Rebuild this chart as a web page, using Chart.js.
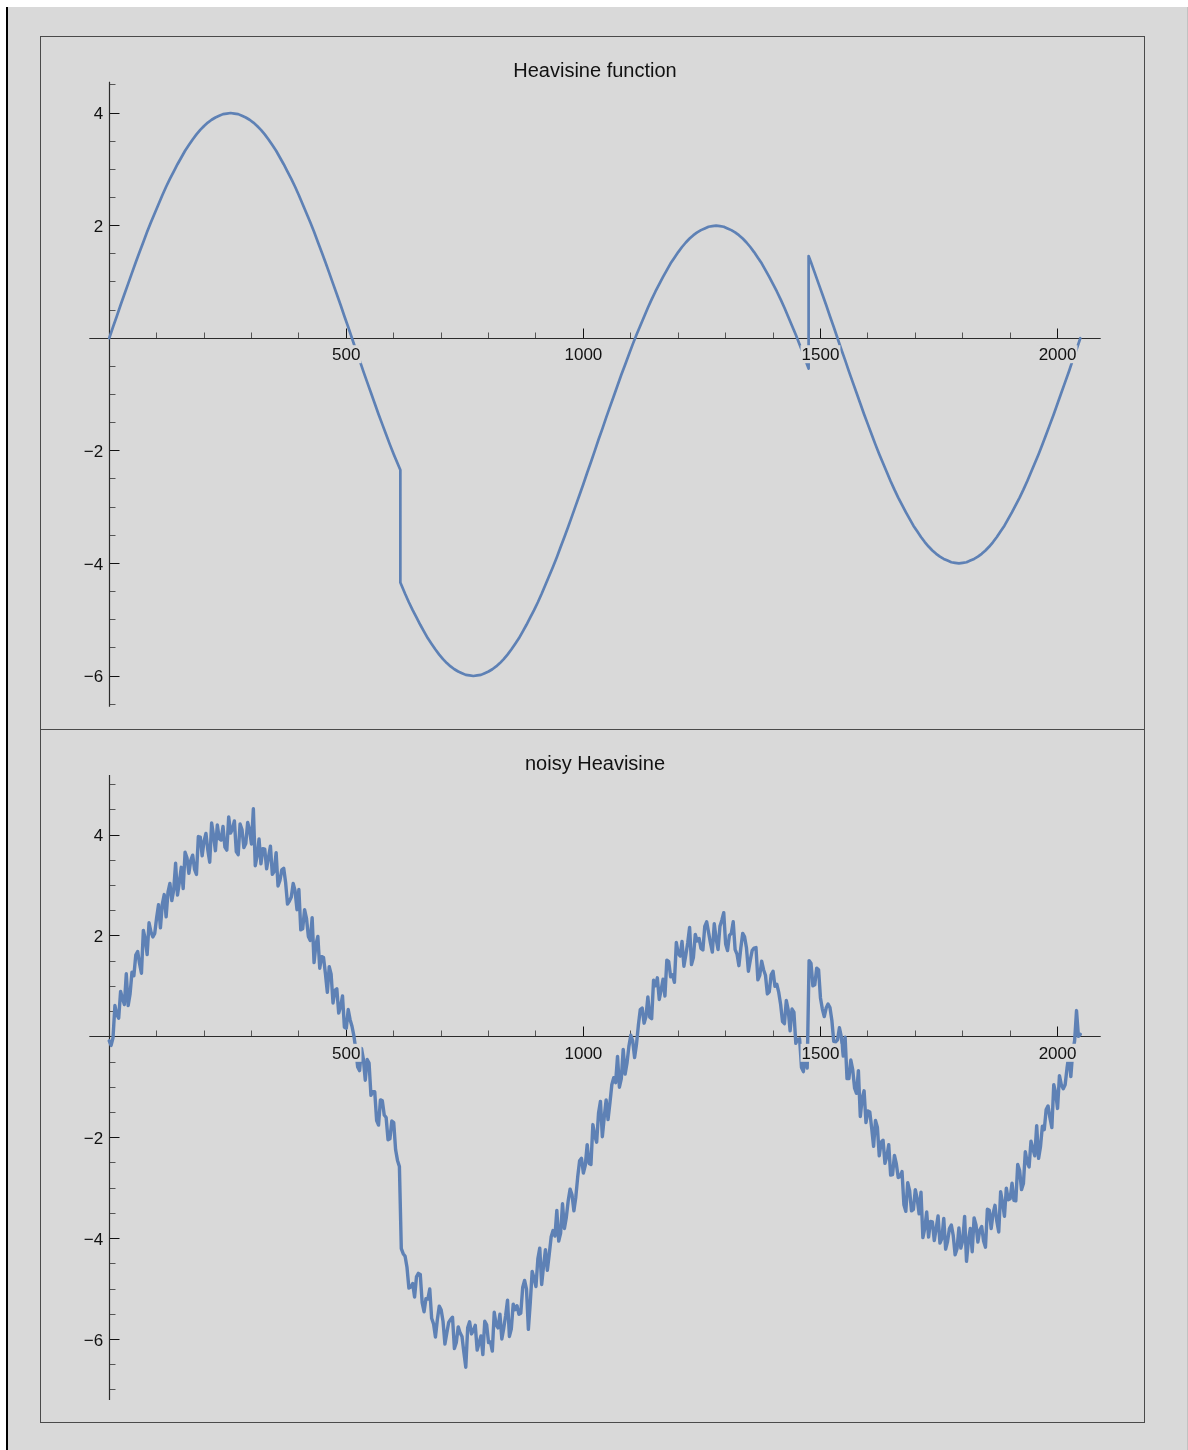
<!DOCTYPE html>
<html>
<head>
<meta charset="utf-8">
<script src="https://cdn.jsdelivr.net/npm/chart.js@4.4.1/dist/chart.umd.min.js"></script>
<style>
  html, body { margin: 0; padding: 0; background: #fff; }
  body { width: 1188px; height: 1450px; position: relative; overflow: hidden; }
  #sheet {
    position: absolute; left: 6px; top: 7px; width: 1182px; height: 1443px;
    box-sizing: border-box; background: #d9d9d9;
    border-left: 2px solid #000; border-right: 1px solid #c2c2c2;
  }
  .frame {
    position: absolute; left: 40px; width: 1105px; height: 694px;
    box-sizing: border-box; border: 1px solid #4a4a4a;
  }
  canvas { position: absolute; left: 0; }
</style>
</head>
<body>
<div id="sheet"></div>
<div class="frame" style="top:36px"></div>
<div class="frame" style="top:729px"></div>
<canvas id="cleanChart" width="1188" height="730" style="top:0"></canvas>
<canvas id="noisyChart" width="1188" height="720" style="top:730px"></canvas>
<script>
// Heavisine, read every 8 samples
const cleanStep = 8;
const cleanY = [
  0, 0.20, 0.39, 0.59, 0.78, 0.97, 1.16, 1.35, 1.53, 1.71, 1.89, 2.06, 2.22, 2.38, 2.54, 2.69,
  2.83, 2.96, 3.09, 3.21, 3.33, 3.43, 3.53, 3.62, 3.70, 3.77, 3.83, 3.88, 3.92, 3.95, 3.98, 3.99,
  4.00, 3.99, 3.98, 3.95, 3.92, 3.88, 3.83, 3.77, 3.70, 3.62, 3.53, 3.43, 3.33, 3.21, 3.09, 2.96,
  2.83, 2.69, 2.54, 2.38, 2.22, 2.06, 1.89, 1.71, 1.53, 1.35, 1.16, 0.97, 0.78, 0.59, 0.39, 0.20,
  0, -0.20, -0.39, -0.59, -0.78, -0.97, -1.16, -1.35, -1.53, -1.71, -1.89, -2.06, -2.22, -4.38, -4.54, -4.69,
  -4.83, -4.96, -5.09, -5.21, -5.33, -5.43, -5.53, -5.62, -5.70, -5.77, -5.83, -5.88, -5.92, -5.95, -5.98, -5.99,
  -6.00, -5.99, -5.98, -5.95, -5.92, -5.88, -5.83, -5.77, -5.70, -5.62, -5.53, -5.43, -5.33, -5.21, -5.09, -4.96,
  -4.83, -4.69, -4.54, -4.38, -4.22, -4.06, -3.89, -3.71, -3.53, -3.35, -3.16, -2.97, -2.78, -2.59, -2.39, -2.20,
  -2.00, -1.80, -1.61, -1.41, -1.22, -1.03, -0.84, -0.65, -0.47, -0.29, -0.11, 0.06, 0.22, 0.38, 0.54, 0.69,
  0.83, 0.96, 1.09, 1.21, 1.33, 1.43, 1.53, 1.62, 1.70, 1.77, 1.83, 1.88, 1.92, 1.95, 1.98, 1.99,
  2.00, 1.99, 1.98, 1.95, 1.92, 1.88, 1.83, 1.77, 1.70, 1.62, 1.53, 1.43, 1.33, 1.21, 1.09, 0.96,
  0.83, 0.69, 0.54, 0.38, 0.22, 0.06, -0.11, -0.29, -0.47, 1.35, 1.16, 0.97, 0.78, 0.59, 0.39, 0.20,
  0, -0.20, -0.39, -0.59, -0.78, -0.97, -1.16, -1.35, -1.53, -1.71, -1.89, -2.06, -2.22, -2.38, -2.54, -2.69,
  -2.83, -2.96, -3.09, -3.21, -3.33, -3.43, -3.53, -3.62, -3.70, -3.77, -3.83, -3.88, -3.92, -3.95, -3.98, -3.99,
  -4.00, -3.99, -3.98, -3.95, -3.92, -3.88, -3.83, -3.77, -3.70, -3.62, -3.53, -3.43, -3.33, -3.21, -3.09, -2.96,
  -2.83, -2.69, -2.54, -2.38, -2.22, -2.06, -1.89, -1.71, -1.53, -1.35, -1.16, -0.97, -0.78, -0.59, -0.39, -0.20,
  0
];
// the two jumps
const jumpX = [614, 1475];
const jumpFrom = [-2.34, -0.54];
const jumpTo = [-4.34, 1.46];

// noisy Heavisine, read every 4 samples
const noisyStep = 4;
const noisyY = [
  -0.08, -0.17, -0.02, 0.62, 0.44, 0.37, 0.90, 0.76, 0.64, 1.25, 0.62, 0.85, 1.28, 1.21, 1.62, 1.69,
  1.45, 1.26, 2.11, 1.94, 1.63, 2.26, 2.08, 1.98, 2.05, 2.36, 2.62, 2.16, 2.63, 2.82, 2.38, 2.87,
  3.04, 2.70, 2.91, 3.44, 2.81, 3.07, 3.36, 2.94, 3.66, 3.55, 3.24, 3.50, 3.60, 3.32, 3.22, 3.97,
  3.96, 3.59, 3.88, 4.03, 3.70, 3.46, 4.24, 3.99, 3.69, 4.20, 3.93, 3.90, 4.17, 3.76, 3.70, 4.36,
  4.04, 4.12, 4.28, 3.67, 3.61, 4.22, 4.11, 3.75, 3.83, 4.25, 4.10, 3.82, 4.52, 3.39, 3.59, 3.92,
  3.43, 3.73, 3.72, 3.33, 3.56, 3.78, 3.22, 3.28, 3.65, 2.99, 3.10, 3.31, 3.34, 3.06, 2.63, 2.69,
  2.77, 3.04, 2.89, 2.52, 2.92, 2.12, 2.14, 2.52, 2.35, 1.99, 1.91, 2.36, 1.47, 1.83, 1.99, 1.36,
  1.59, 1.57, 1.25, 0.88, 1.39, 1.24, 0.67, 0.92, 0.95, 0.47, 0.60, 0.81, 0.19, 0.17, 0.54, 0.34,
  0.21, 0.02, -0.25, -0.60, -0.67, -0.23, -0.44, -0.86, -0.45, -0.52, -1.16, -1.09, -1.09, -1.66, -1.75, -1.25,
  -1.27, -1.55, -1.60, -2.04, -2.02, -1.67, -1.70, -2.24, -2.45, -2.57, -4.20, -4.30, -4.35, -4.57, -4.98, -4.96,
  -4.89, -5.16, -4.76, -4.69, -4.71, -5.27, -5.45, -5.19, -5.20, -5.00, -5.58, -5.69, -5.95, -5.61, -5.34, -5.41,
  -5.64, -6.09, -5.87, -5.66, -5.60, -5.56, -6.18, -6.06, -5.75, -5.87, -5.94, -6.26, -6.55, -5.77, -5.65, -5.89,
  -5.82, -5.72, -6.21, -6.07, -5.93, -6.30, -5.64, -5.71, -6.06, -6.05, -6.23, -5.46, -5.71, -5.77, -5.50, -5.99,
  -5.78, -5.53, -5.22, -5.94, -5.79, -5.30, -5.41, -5.33, -5.50, -5.48, -4.97, -4.83, -5.00, -5.80, -5.27, -4.65,
  -4.79, -4.95, -4.40, -4.19, -4.91, -4.54, -4.22, -4.63, -4.31, -3.97, -3.84, -3.95, -3.44, -4.05, -3.89, -3.31,
  -3.80, -3.58, -3.25, -3.02, -3.13, -3.45, -3.18, -2.78, -2.46, -2.41, -2.70, -2.55, -2.14, -2.51, -2.53, -1.74,
  -1.96, -2.09, -1.51, -1.28, -1.98, -1.59, -1.25, -1.64, -1.31, -0.95, -0.81, -0.91, -0.39, -1.00, -0.83, -0.25,
  -0.74, -0.52, -0.19, 0.03, -0.08, -0.41, -0.15, 0.23, 0.54, 0.57, 0.27, 0.40, 0.79, 0.39, 0.36, 1.12,
  1.01, 1.17, 0.74, 0.93, 1.14, 0.81, 1.52, 1.49, 1.19, 1.23, 1.08, 1.87, 1.65, 1.60, 1.89, 1.40,
  1.62, 1.86, 2.17, 1.43, 1.57, 2.03, 1.90, 1.95, 1.75, 1.72, 2.19, 2.28, 2.07, 1.86, 1.68, 2.24,
  1.94, 1.73, 2.19, 2.31, 2.46, 1.84, 1.71, 2.01, 2.05, 2.28, 1.73, 1.64, 1.41, 1.76, 2.05, 1.98,
  1.76, 1.30, 1.52, 1.71, 1.76, 1.77, 1.13, 1.22, 1.50, 1.33, 1.22, 0.85, 0.89, 1.23, 1.30, 1.00,
  1.04, 0.88, 0.64, 0.30, 0.26, 0.72, 0.53, 0.12, 0.55, 0.49, -0.13, -0.05, -0.04, -0.61, -0.69, -0.19,
  -0.62, 1.51, 1.46, 1.01, 1.03, 1.36, 1.33, 0.77, 0.55, 0.40, 0.57, 0.65, 0.58, 0.33, -0.09, -0.10,
  -0.06, 0.18, 0.00, -0.38, -0.01, -0.83, -0.83, -0.46, -0.65, -1.02, -1.12, -0.67, -1.58, -1.22, -1.07, -1.70,
  -1.47, -1.49, -1.81, -2.17, -1.66, -1.79, -2.36, -2.09, -2.05, -2.51, -2.37, -2.14, -2.74, -2.73, -2.35, -2.52,
  -2.79, -2.77, -2.67, -3.33, -3.46, -2.89, -3.05, -3.45, -3.42, -3.03, -3.21, -3.51, -3.08, -3.98, -3.80, -3.47,
  -3.97, -3.66, -3.67, -4.04, -3.80, -3.55, -4.09, -4.00, -3.60, -4.21, -4.06, -3.80, -3.73, -3.94, -4.32, -4.20,
  -3.79, -4.19, -4.04, -3.56, -4.45, -4.04, -3.80, -4.26, -3.59, -3.73, -4.07, -3.83, -3.76, -4.05, -4.17, -3.42,
  -3.44, -3.80, -3.51, -3.34, -3.66, -3.87, -3.07, -3.29, -3.56, -3.00, -3.23, -3.21, -2.90, -3.24, -3.25, -2.53,
  -2.65, -3.03, -2.91, -2.28, -2.49, -2.58, -2.07, -2.22, -2.36, -1.76, -2.41, -2.18, -1.77, -1.84, -1.44, -1.37,
  -1.61, -1.80, -0.95, -1.11, -1.42, -0.77, -0.95, -1.03, -0.95, -0.62, -0.35, -0.79, -0.30, -0.08, 0.52, 0.01,
  0.05
];

// ticks
const xMajorTicks = [500, 1000, 1500, 2000];
const xMinorTicks = [100, 200, 300, 400, 600, 700, 800, 900, 1100, 1200, 1300, 1400, 1600, 1700, 1800, 1900];
const yMajorTicks = [-6, -4, -2, 2, 4];
const cleanYMinor = [-6.5, -5.5, -5, -4.5, -3.5, -3, -2.5, -1.5, -1, -0.5, 0.5, 1, 1.5, 2.5, 3, 3.5, 4.5];
const noisyYMinor = [-7, -6.5, -5.5, -5, -4.5, -3.5, -3, -2.5, -1.5, -1, -0.5, 0.5, 1, 1.5, 2.5, 3, 3.5, 4.5, 5];

const LINE = '#5e81b5';
const BG = '#d9d9d9';
const FONT = '"Liberation Sans", Arial, Helvetica, sans-serif';

function buildClean() {
  const pts = cleanY.map((v, i) => ({ x: i * cleanStep, y: v }));
  jumpX.forEach((jx, i) => {
    pts.push({ x: jx, y: jumpFrom[i] });
    pts.push({ x: jx, y: jumpTo[i] });
  });
  return pts.sort((a, b) => a.x - b.x);
}

const crisp = v => Math.round(v - 0.5) + 0.5;
const fmt = v => (v < 0 ? '\u2212' + Math.abs(v) : String(v));

// Mathematica style axes crossing at the origin
const mmaAxes = {
  id: 'mmaAxes',
  beforeDatasetsDraw(chart, args, o) {
    const { ctx, chartArea: a } = chart;
    const sx = chart.scales.x, sy = chart.scales.y;
    const x0 = crisp(sx.getPixelForValue(0));
    const y0 = crisp(sy.getPixelForValue(0));
    ctx.save();
    ctx.lineWidth = 1;

    ctx.strokeStyle = '#555';
    ctx.beginPath();
    xMinorTicks.forEach(v => {
      const px = crisp(sx.getPixelForValue(v));
      ctx.moveTo(px, y0); ctx.lineTo(px, y0 - 6);
    });
    o.yMinor.forEach(v => {
      const py = crisp(sy.getPixelForValue(v));
      ctx.moveTo(x0, py); ctx.lineTo(x0 + 6, py);
    });
    ctx.stroke();

    ctx.strokeStyle = '#111';
    ctx.beginPath();
    xMajorTicks.forEach(v => {
      const px = crisp(sx.getPixelForValue(v));
      ctx.moveTo(px, y0); ctx.lineTo(px, y0 - 10);
    });
    yMajorTicks.forEach(v => {
      const py = crisp(sy.getPixelForValue(v));
      ctx.moveTo(x0, py); ctx.lineTo(x0 + 10, py);
    });
    ctx.stroke();

    ctx.strokeStyle = '#2b2b2b';
    ctx.lineWidth = 1.2;
    ctx.beginPath();
    ctx.moveTo(a.left, y0); ctx.lineTo(a.right, y0);
    ctx.moveTo(x0, a.top); ctx.lineTo(x0, a.bottom);
    ctx.stroke();
    ctx.restore();
  },
  afterDatasetsDraw(chart, args, o) {
    const { ctx, chartArea: a } = chart;
    const sx = chart.scales.x, sy = chart.scales.y;
    const x0 = sx.getPixelForValue(0);
    const y0 = sy.getPixelForValue(0);
    ctx.save();
    ctx.font = '17px ' + FONT;
    ctx.textBaseline = 'alphabetic';

    ctx.textAlign = 'center';
    xMajorTicks.forEach(v => {
      const px = sx.getPixelForValue(v);
      const base = y0 + 22;
      const w = ctx.measureText(fmt(v)).width;
      ctx.fillStyle = BG;
      ctx.fillRect(px - w / 2 - 1, base - 15, w + 2, 18);
      ctx.fillStyle = '#111';
      ctx.fillText(fmt(v), px, base);
    });

    ctx.textAlign = 'right';
    yMajorTicks.forEach(v => {
      const py = sy.getPixelForValue(v);
      ctx.fillStyle = '#111';
      ctx.fillText(fmt(v), x0 - 6, py + 6.3);
    });

    ctx.font = '20px ' + FONT;
    ctx.textAlign = 'center';
    ctx.fillStyle = '#111';
    ctx.fillText(o.title, (a.left + a.right) / 2, o.titleBase);
    ctx.restore();
  }
};

function makeChart(id, points, yMin, yMax, pad, width, axisOpts) {
  return new Chart(document.getElementById(id), {
    type: 'line',
    data: {
      datasets: [{
        data: points,
        borderColor: LINE,
        borderWidth: width,
        borderJoinStyle: 'round',
        borderCapStyle: 'round',
        pointRadius: 0,
        tension: 0,
        fill: false
      }]
    },
    options: {
      responsive: false,
      animation: false,
      devicePixelRatio: 1,
      layout: { padding: pad },
      scales: {
        x: { type: 'linear', min: -42, max: 2091, display: false },
        y: { type: 'linear', min: yMin, max: yMax, display: false }
      },
      plugins: {
        legend: { display: false },
        tooltip: { enabled: false },
        mmaAxes: axisOpts
      }
    },
    plugins: [mmaAxes]
  });
}

makeChart('cleanChart', buildClean(), -6.545, 4.556,
  { left: 89.3, right: 87.3, top: 81.7, bottom: 23.3 }, 2.7,
  { title: 'Heavisine function', titleBase: 76.7, yMinor: cleanYMinor });

makeChart('noisyChart', noisyY.map((v, i) => ({ x: i * noisyStep, y: v })), -7.2, 5.19,
  { left: 89.3, right: 87.3, top: 45, bottom: 50 }, 3.4,
  { title: 'noisy Heavisine', titleBase: 39.5, yMinor: noisyYMinor });
</script>
</body>
</html>
